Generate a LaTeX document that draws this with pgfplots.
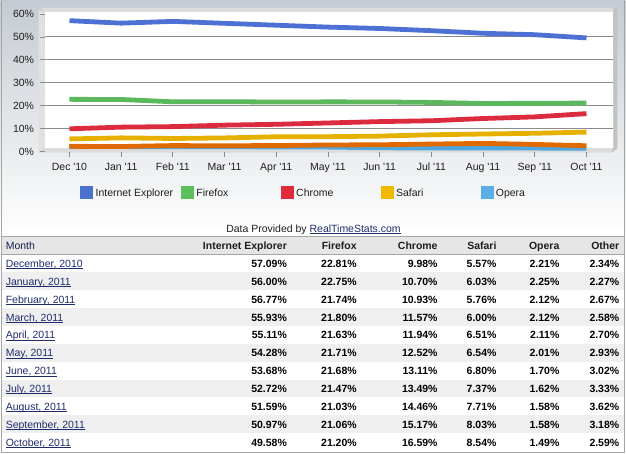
\documentclass[border=0pt]{standalone}
\usepackage{pgfplots}
\pgfplotsset{compat=1.18}
\usepackage{pgfplotstable}
\usepackage{fontspec}
\setmainfont{Liberation Sans}

\definecolor{ie}{HTML}{4C70D4}
\definecolor{ff}{HTML}{5CB85C}
\definecolor{ch}{HTML}{DC2A3E}
\definecolor{sa}{HTML}{E6B000}
\definecolor{op}{HTML}{4DA6DE}
\definecolor{ot}{HTML}{E06A00}
\definecolor{iebox}{HTML}{4A72CC}
\definecolor{ffbox}{HTML}{5CBF5C}
\definecolor{chbox}{HTML}{E02A3C}
\definecolor{sabox}{HTML}{F0B800}
\definecolor{opbox}{HTML}{5AB0E6}
\definecolor{linkc}{HTML}{1F2C6E}
\definecolor{bgtop}{HTML}{C5CBD2}
\definecolor{gridc}{HTML}{8C8C8C}
\definecolor{tickc}{HTML}{8C8C8C}
\definecolor{labelc}{HTML}{1E1E1E}
\definecolor{wallc}{HTML}{DCDCDC}
\definecolor{rwallc}{HTML}{C2C2C2}
\definecolor{borderc}{HTML}{A4A4A4}
\definecolor{headc}{HTML}{E6E6E6}
\definecolor{rowc}{HTML}{EFEFEF}

\pgfplotstableread{
idx IE FF CH SA OP OT
0 57.09 22.81 9.98 5.57 2.21 2.34
1 56.00 22.75 10.70 6.03 2.25 2.27
2 56.77 21.74 10.93 5.76 2.12 2.67
3 55.93 21.80 11.57 6.00 2.12 2.58
4 55.11 21.63 11.94 6.51 2.11 2.70
5 54.28 21.71 12.52 6.54 2.01 2.93
6 53.68 21.68 13.11 6.80 1.70 3.02
7 52.72 21.47 13.49 7.37 1.62 3.33
8 51.59 21.03 14.46 7.71 1.58 3.62
9 50.97 21.06 15.17 8.03 1.58 3.18
10 49.58 21.20 16.59 8.54 1.49 2.59
}\data

\newcommand{\rf}{\fontsize{10.5}{12}\selectfont}
\newcommand{\bff}{\fontsize{10.5}{12}\selectfont\bfseries}
\newcommand{\ul}[1]{\setbox0\hbox{#1}\rlap{\rule[-1.6pt]{\wd0}{0.7pt}}\box0}

\begin{document}
\begin{tikzpicture}
\begin{scope}[x=1pt,y=-1pt]
\useasboundingbox (0,0) rectangle (626,454);
\fill[white] (0,0) rectangle (626,454);
\shade[top color=bgtop, bottom color=white] (0,0) rectangle (626,237);
% 3D frame
\fill[wallc] (40,8) -- (614,8) -- (614,12) -- (44,12) -- cycle;
\fill[wallc!85!white] (38,10) -- (44,12) -- (44,148) -- (38,153) -- cycle;
\fill[wallc] (38,153) -- (44,148) -- (614,148) -- (612,153) -- cycle;
\fill[rwallc] (614,9) -- (618,7) -- (618,149) -- (612,153) -- (614,148) -- cycle;
\fill[white] (44,12) rectangle (614,148);
\draw[borderc, line width=1pt] (0.5,0) -- (0.5,453.5) -- (625.5,453.5) -- (625.5,0);
\end{scope}

\begin{axis}[
  at={(44pt,-152pt)}, anchor=south west,
  width=570pt, height=138pt, scale only axis,
  xmin=-0.4826, xmax=10.5212, ymin=0, ymax=60,
  axis line style={draw=none},
  clip=false,
  tick align=outside,
  xtick={0,...,10},
  xticklabels={Dec \textquotesingle10, Jan \textquotesingle11, Feb \textquotesingle11, Mar \textquotesingle11, Apr \textquotesingle11, May \textquotesingle11, Jun \textquotesingle11, Jul \textquotesingle11, Aug \textquotesingle11, Sep \textquotesingle11, Oct \textquotesingle11},
  xtick pos=bottom, ytick pos=left,
  ytick={10,20,30,40,50},
  extra y ticks={0,60},
  extra y tick style={grid=none},
  /pgf/number format/assume math mode=true,
  yticklabel={\pgfmathprintnumber[assume math mode=true]{\tick}\%},
  ymajorgrids,
  grid style={draw=gridc, line width=1pt},
  major tick length=5pt,
  tick style={draw=tickc, line width=0.8pt},
  ticklabel style={font=\rf, text=labelc},
  yticklabel style={anchor=east, xshift=-2pt},
  xticklabel style={anchor=north, yshift=-3pt},
]
\addplot[ie, line width=4.8pt] table[x=idx,y=IE]{\data};
\addplot[ff, line width=4.8pt] table[x=idx,y=FF]{\data};
\addplot[ch, line width=4.8pt] table[x=idx,y=CH]{\data};
\addplot[sa, line width=4.8pt] table[x=idx,y=SA]{\data};
\addplot[op, line width=4.8pt] table[x=idx,y=OP]{\data};
\addplot[ot, line width=4.8pt] table[x=idx,y=OT]{\data};
\end{axis}

\begin{scope}[x=1pt,y=-1pt]
% legend
\foreach \c/\t/\x in {iebox/Internet Explorer/80, ffbox/Firefox/181, chbox/Chrome/281, sabox/Safari/381, opbox/Opera/481}{
  \fill[\c] (\x,186.5) rectangle ++(13,13);
  \node[anchor=base west, inner sep=0pt, text=labelc, font=\rf] at (\x+15,197) {\t};
}
\node[anchor=base, inner sep=0pt, text=labelc, font=\rf] at (313.5,233) {Data Provided by \textcolor{linkc}{\ul{RealTimeStats.com}}};
% table
\fill[headc] (1,237) rectangle (625,254.5);
\draw[borderc, line width=1.2pt] (0,237) -- (626,237);
\draw[borderc, line width=1pt] (0,254.5) -- (626,254.5);
\foreach \i in {1,3,5,7,9}{
  \fill[rowc] (1,{255+17.9*\i}) rectangle (625,{255+17.9*(\i+1)});
}
\node[anchor=base west, inner sep=0pt, text=linkc!70!black, font=\rf] at (5,250) {Month};
\foreach \h/\x in {Internet Explorer/287, Firefox/357, Chrome/438, Safari/497, Opera/560, Other/620}{
  \node[anchor=base east, inner sep=0pt, text=labelc, font=\bff] at (\x,250) {\h};
}
\foreach \m [count=\j from 0] in {{December, 2010},{January, 2011},{February, 2011},{March, 2011},{April, 2011},{May, 2011},{June, 2011},{July, 2011},{August, 2011},{September, 2011},{October, 2011}}{
  \node[anchor=base west, inner sep=0pt, text=linkc, font=\rf] at (5,{268+17.9*\j}) {\ul{\m}};
}
\foreach \i in {0,...,10}{
  \foreach \col/\x in {IE/287, FF/357, CH/438, SA/497, OP/560, OT/620}{
    \pgfplotstablegetelem{\i}{\col}\of\data
    \node[anchor=base east, inner sep=0pt, text=black, font=\bff] at (\x,{268+17.9*\i}) {\pgfplotsretval\%};
  }
}
\end{scope}
\end{tikzpicture}
\end{document}
